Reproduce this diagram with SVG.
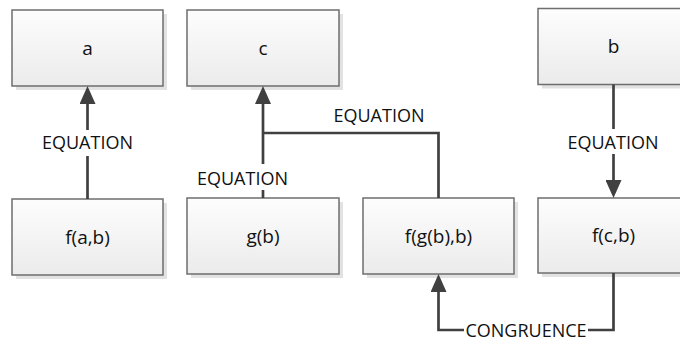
<svg xmlns="http://www.w3.org/2000/svg" width="680" height="340" viewBox="0 0 680 340">
  <defs>
    <linearGradient id="boxFill" x1="0" y1="0" x2="0" y2="1">
      <stop offset="0" stop-color="#fdfdfd"/>
      <stop offset="1" stop-color="#ebebeb"/>
    </linearGradient>
    <marker id="arrow" viewBox="0 0 18 16" refX="0" refY="8" markerWidth="18" markerHeight="16" markerUnits="userSpaceOnUse" orient="auto">
      <path d="M0,0 L18,8 L0,16 Z" fill="#404040"/>
    </marker>
    <style>
      .shadow { fill: #e2e2e2; }
      .box { fill: url(#boxFill); stroke: #6e6e6e; stroke-width: 1.5; }
      .txt { font-family: "Open Sans", "Liberation Sans", sans-serif; font-size: 18px; fill: #111; text-anchor: middle; }
      .name { font-size: 19px; }
      .wire { fill: none; stroke: #404040; stroke-width: 2.7; }
      .lblbg { fill: #ffffff; }
    </style>
  </defs>

  <rect width="680" height="340" fill="#ffffff"/>

  <!-- nodes -->
  <g id="node-a">
    <rect class="shadow" x="16" y="14" width="151" height="76"/>
    <rect class="box" x="12" y="10" width="151" height="76"/>
    <text class="txt name" x="87.5" y="55">a</text>
  </g>
  <g id="node-c">
    <rect class="shadow" x="191" y="14" width="152" height="76"/>
    <rect class="box" x="187" y="10" width="152" height="76"/>
    <text class="txt name" x="263" y="55">c</text>
  </g>
  <g id="node-b">
    <rect class="shadow" x="542" y="12.5" width="151" height="76"/>
    <rect class="box" x="538" y="8.5" width="151" height="76"/>
    <text class="txt name" x="613.5" y="53">b</text>
  </g>
  <g id="node-fab">
    <rect class="shadow" x="16" y="203" width="151" height="76"/>
    <rect class="box" x="12" y="199" width="151" height="76"/>
    <text class="txt name" x="87.5" y="243.5">f(a,b)</text>
  </g>
  <g id="node-gb">
    <rect class="shadow" x="191" y="202" width="152" height="76"/>
    <rect class="box" x="187" y="198" width="152" height="76"/>
    <text class="txt name" x="263" y="242.5">g(b)</text>
  </g>
  <g id="node-fgbb">
    <rect class="shadow" x="367" y="202" width="151" height="76"/>
    <rect class="box" x="363" y="198" width="151" height="76"/>
    <text class="txt name" x="438.5" y="242.5">f(g(b),b)</text>
  </g>
  <g id="node-fcb">
    <rect class="shadow" x="542" y="202" width="151" height="75"/>
    <rect class="box" x="538" y="198" width="151" height="75"/>
    <text class="txt name" x="613.5" y="242">f(c,b)</text>
  </g>

  <!-- connectors -->
  <g id="connectors">
    <!-- f(a,b) -> a -->
    <path class="wire" d="M87.5,199 V104" marker-end="url(#arrow)"/>
    <rect class="lblbg" x="40" y="130" width="95" height="26"/>
    <text class="txt" x="87.5" y="149">EQUATION</text>

    <!-- g(b) -> c, joined by f(g(b),b) -->
    <path class="wire" d="M263,198 V104" marker-end="url(#arrow)"/>
    <path class="wire" d="M263,133 H438.5 V198"/>
    <rect class="lblbg" x="195" y="164" width="95" height="26"/>
    <text class="txt" x="242.5" y="185">EQUATION</text>
    <text class="txt" x="379" y="121.5">EQUATION</text>

    <!-- b -> f(c,b) -->
    <path class="wire" d="M613.5,84.5 V180" marker-end="url(#arrow)"/>
    <rect class="lblbg" x="566" y="129" width="95" height="25"/>
    <text class="txt" x="613" y="148.5">EQUATION</text>

    <!-- f(c,b) -> f(g(b),b) -->
    <path class="wire" d="M613.5,273 V330 H438.5 V292" marker-end="url(#arrow)"/>
    <rect class="lblbg" x="464" y="320" width="124" height="20"/>
    <text class="txt" x="526" y="336.5">CONGRUENCE</text>
  </g>
</svg>
